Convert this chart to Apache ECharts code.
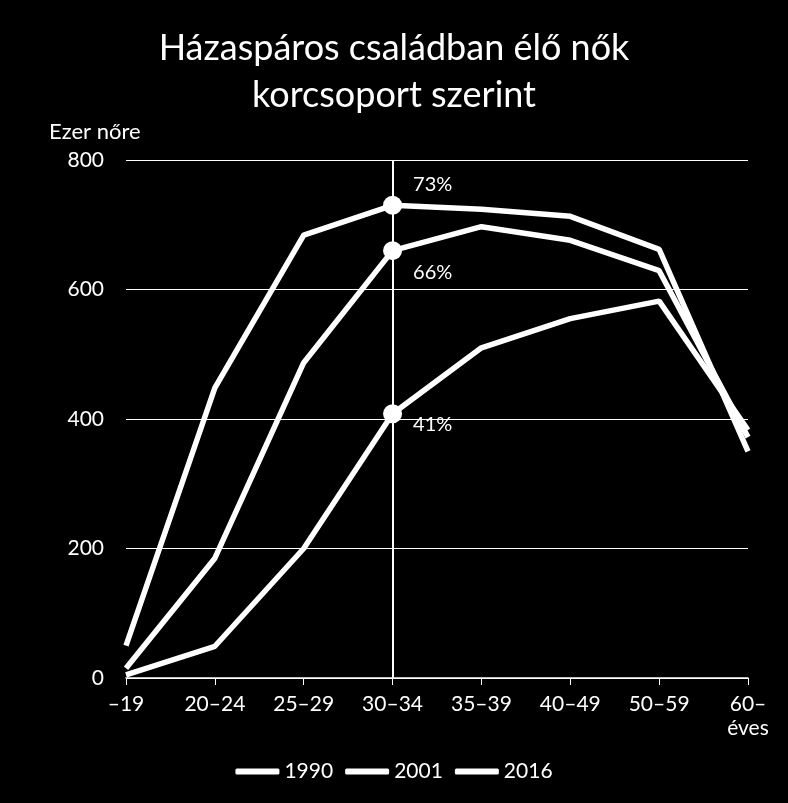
<!DOCTYPE html>
<html><head><meta charset="utf-8">
<script src="https://cdn.jsdelivr.net/npm/echarts@6/dist/echarts.min.js"></script>
<style>html,body{margin:0;padding:0;background:#000}#c{width:788px;height:803px}</style>
</head><body><div id="c"></div>
<script>
const categories = ['–19','20–24','25–29','30–34','35–39','40–49','50–59','60–'];
const s1990 = [50, 448, 684, 730, 724, 713, 662, 350];
const s2001 = [15, 185, 487, 660, 697, 676, 629, 372];
const s2016 = [5, 49, 200, 408, 510, 555, 582, 383];
const seriesNames = ['1990','2001','2016'];
const pctLabels = ['73%','66%','41%'];
const yTicks = [0,200,400,600,800];
const FONT = 'Lato';
const chart = echarts.init(document.getElementById('c'));
function mk(name, data, pct, pos, off) {
  return {
    name, type:'line', data, symbol:'none', smooth:false,
    lineStyle:{color:'#fff', width:5.5},
    itemStyle:{color:'#fff'},
    z:3,
    markPoint:{
      symbol:'circle', symbolSize:19,
      itemStyle:{color:'#fff'},
      label:{show:true, formatter:pct, position:'right', offset:off, color:'#fff', fontSize:20, fontFamily:FONT},
      data:[{coord:['30–34', data[3]]}]
    }
  };
}
const series = [
  mk(seriesNames[0], s1990, pctLabels[0], 'right', [6,-21]),
  mk(seriesNames[1], s2001, pctLabels[1], 'right', [6,22]),
  mk(seriesNames[2], s2016, pctLabels[2], 'right', [6,11])
];
series[0].markLine = {
  silent:true, symbol:'none', label:{show:false},
  lineStyle:{color:'#fff', width:2, type:'solid'},
  data:[{xAxis:'30–34'}]
};
chart.setOption({
  backgroundColor:'#000',
  animation:false,
  title:[{
    text:'Házaspáros családban élő nők\nkorcsoport szerint',
    left:'center', top:20,
    textStyle:{color:'#fff', fontSize:36, fontWeight:'normal', fontFamily:FONT, lineHeight:47}
  },{
    text:'Ezer nőre', left:44, top:116,
    textStyle:{color:'#fff', fontSize:22, fontWeight:'normal', fontFamily:FONT}
  }],
  legend:{
    bottom:16, left:'center',
    data:seriesNames,
    itemWidth:44, itemHeight:6, itemGap:12,
    icon:'roundRect',
    textStyle:{color:'#fff', fontSize:21, fontFamily:FONT},
    itemStyle:{color:'#fff'}
  },
  grid:{left:126, right:40, top:160, bottom:125, containLabel:false},
  xAxis:{
    type:'category', data:categories, boundaryGap:false,
    axisLine:{lineStyle:{color:'#fff', width:1.5}},
    axisTick:{show:true, alignWithLabel:true, length:7, lineStyle:{color:'#fff'}},
    axisLabel:{color:'#fff', fontSize:21, fontFamily:FONT, margin:14, lineHeight:24,
      formatter:v => v === '60–' ? '60–\néves' : v}
  },
  yAxis:{
    type:'value', min:0, max:800, interval:200,
    axisLine:{show:false}, axisTick:{show:false},
    axisLabel:{color:'#fff', fontSize:21, fontFamily:FONT, margin:22, formatter:v => yTicks.includes(v) ? String(v) : ''},
    splitLine:{lineStyle:{color:'#fff', width:1}}
  },
  series
});
</script></body></html>
